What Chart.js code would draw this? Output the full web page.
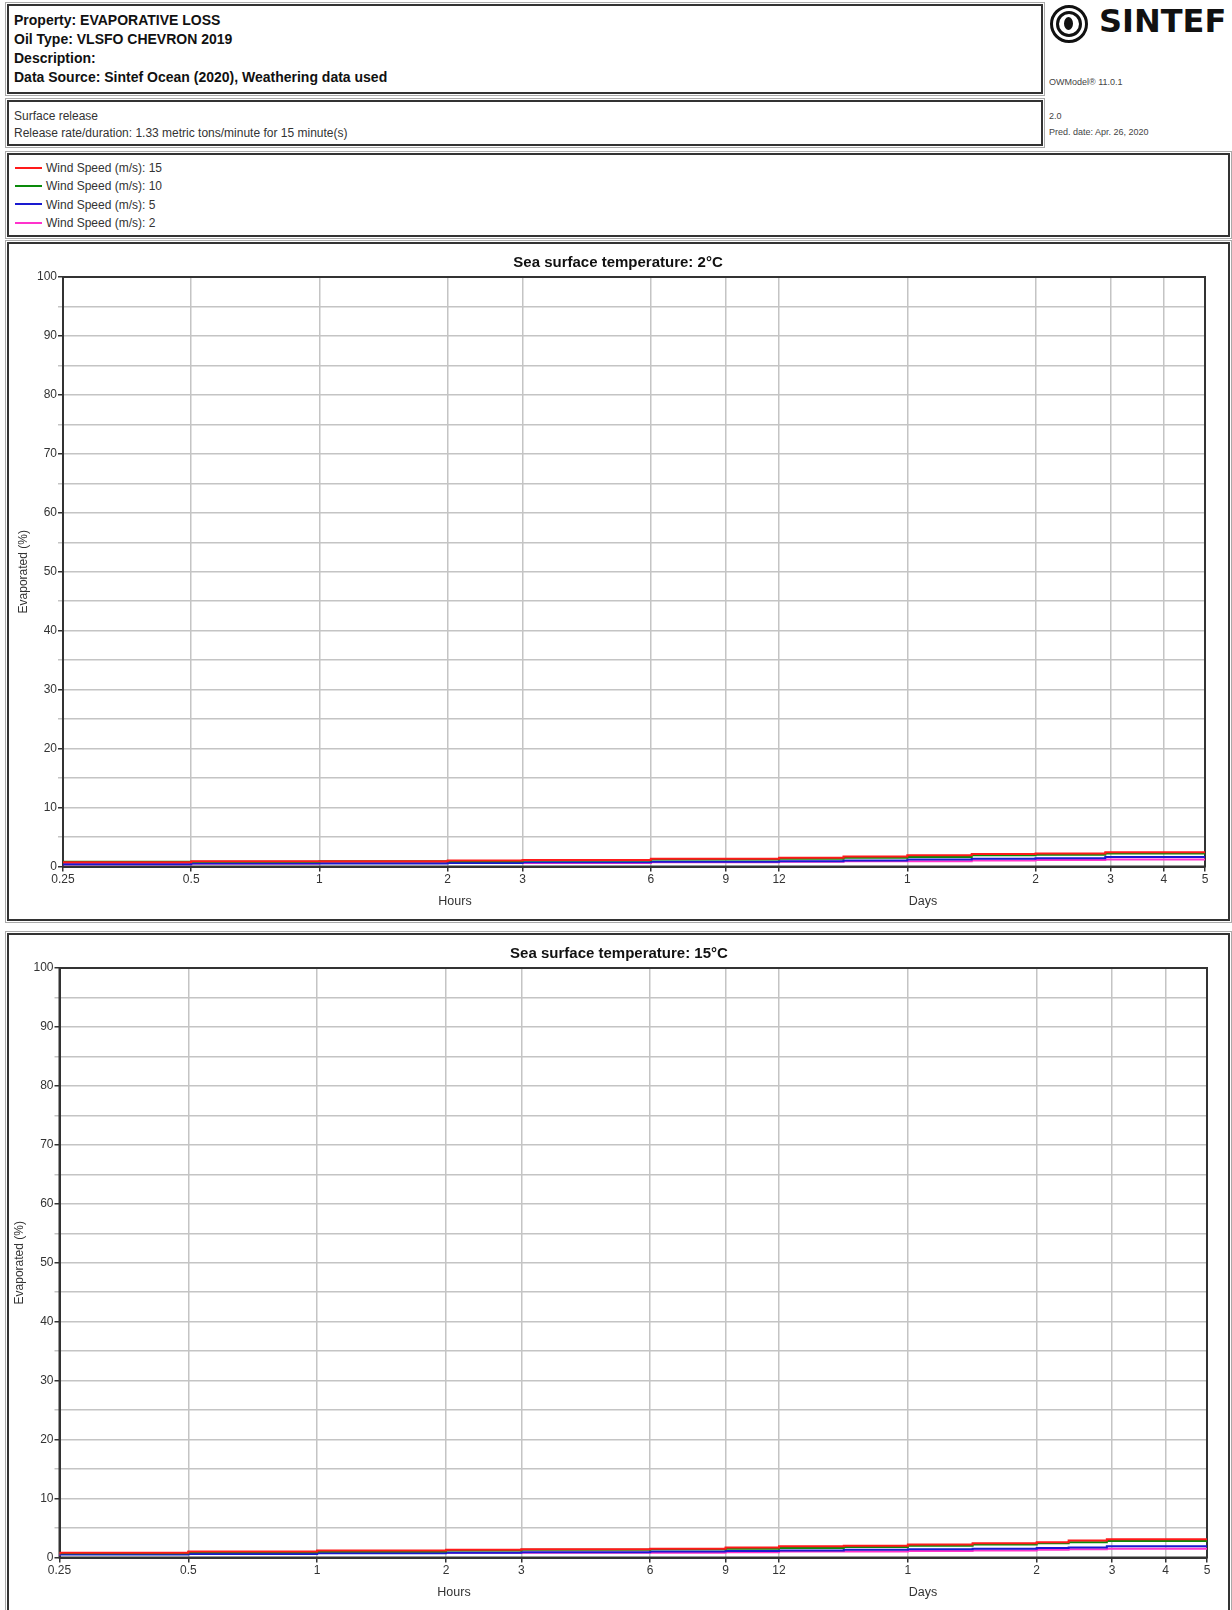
<!DOCTYPE html>
<html>
<head>
<meta charset="utf-8">
<script src="https://cdn.jsdelivr.net/npm/chart.js@4.4.1/dist/chart.umd.min.js"></script>
<style>
  html, body { margin:0; padding:0; background:#fff; }
  body { width:1232px; height:1610px; position:relative; overflow:hidden;
         font-family:'Liberation Sans', Arial, sans-serif; color:#222; }
  .box { position:absolute; box-sizing:border-box; border:2px solid #333;
         outline:1px solid #aaa; outline-offset:1px; background:#fff; }
  .abs { position:absolute; white-space:nowrap; }
  .hdr { font-weight:bold; font-size:14px; line-height:19px; color:#111; }
  .small { font-size:9px; color:#444; }
  .rel { font-size:12px; line-height:16.5px; color:#333; }
  .leg { font-size:12px; color:#333; line-height:18.3px; }
  .leg span.sw { display:inline-block; width:27px; height:2px; vertical-align:middle; margin-right:4px; position:relative; top:-1px; }
  .ctitle { font-weight:bold; font-size:15px; color:#111; transform:translate(-50%,-50%); }
  .axl { font-size:12.5px; color:#333; transform:translate(-50%,-50%); }
  .cv { position:absolute; }
</style>
</head>
<body>
<!-- header -->
<div class="box" style="left:7px;top:4px;width:1036px;height:90px;"></div>
<div class="abs hdr" style="left:14px;top:11px;">
  Property: EVAPORATIVE LOSS<br>Oil Type: VLSFO CHEVRON 2019<br>Description:<br>Data Source: Sintef Ocean (2020), Weathering data used
</div>
<!-- SINTEF logo -->
<div class="abs" style="left:1050px;top:5px;width:38px;height:38px;border-radius:50%;border:3px solid #111;box-sizing:border-box;"></div>
<div class="abs" style="left:1056px;top:11px;width:26px;height:26px;border-radius:50%;border:3px solid #111;box-sizing:border-box;"></div>
<div class="abs" style="left:1064px;top:17px;width:9px;height:13px;border-radius:50%;background:#111;"></div>
<div class="abs" style="left:1099px;top:2px;font-family:'DejaVu Sans',sans-serif;font-weight:bold;font-size:32px;color:#111;letter-spacing:0px;">SINTEF</div>
<div class="abs small" style="left:1049px;top:77px;">OWModel® 11.0.1</div>

<div class="box" style="left:7px;top:100px;width:1036px;height:46px;"></div>
<div class="abs rel" style="left:14px;top:108px;">Surface release<br>Release rate/duration: 1.33 metric tons/minute for 15 minute(s)</div>
<div class="abs small" style="left:1049px;top:111px;">2.0</div>
<div class="abs small" style="left:1049px;top:127px;">Pred. date: Apr. 26, 2020</div>

<div class="box" style="left:7px;top:153px;width:1223px;height:84px;"></div>
<div class="abs leg" id="legend" style="left:15px;top:159px;"></div>

<!-- chart boxes -->
<div class="box" style="left:7px;top:242px;width:1223px;height:679px;"></div>
<div class="box" style="left:7px;top:933px;width:1223px;height:690px;"></div>

<div class="cv" style="left:9px;top:244px;width:1219px;height:675px;"><canvas id="c1"></canvas></div>
<div class="cv" style="left:9px;top:935px;width:1219px;height:675px;"><canvas id="c2"></canvas></div>

<div class="abs ctitle" id="t1" style="left:618px;top:261px;"></div>
<div class="abs axl" style="left:455px;top:901px;">Hours</div>
<div class="abs axl" style="left:923px;top:901px;">Days</div>

<div class="abs ctitle" id="t2" style="left:619px;top:952px;"></div>
<div class="abs axl" style="left:454px;top:1592px;">Hours</div>
<div class="abs axl" style="left:923px;top:1592px;">Days</div>

<script>
// ---------- data ----------
const seriesNames = ['Wind Speed (m/s): 15', 'Wind Speed (m/s): 10', 'Wind Speed (m/s): 5', 'Wind Speed (m/s): 2'];
const seriesColors = ['#ff1a1a', '#0a8a0a', '#1a1ad0', '#ff33cc'];

const tickHours  = [0.25, 0.5, 1, 2, 3, 6, 9, 12, 24, 48, 72, 96, 120];
const tickLabels = ['0.25', '0.5', '1', '2', '3', '6', '9', '12', '1', '2', '3', '4', '5'];

const chart1Title = 'Sea surface temperature: 2°C';
const chart2Title = 'Sea surface temperature: 15°C';

// Sea surface temperature 2°C
const times2C = [0.25, 0.5, 1, 2, 3, 6, 9, 12, 17, 24, 34, 48, 70, 96, 120];
const wind15_2C = [0.6, 0.7, 0.9, 0.9, 1.0, 1.1, 1.3, 1.3, 1.5, 1.7, 1.9, 2.1, 2.2, 2.4, 2.4];
const wind10_2C = [0.5, 0.8, 0.8, 0.9, 0.9, 1.0, 1.2, 1.2, 1.3, 1.5, 1.6, 1.9, 2.0, 2.2, 2.2];
const wind5_2C  = [0.3, 0.4, 0.5, 0.5, 0.6, 0.7, 0.8, 0.8, 0.9, 1.0, 1.2, 1.3, 1.4, 1.6, 1.6];
const wind2_2C  = [0.3, 0.4, 0.5, 0.6, 0.6, 0.6, 0.7, 0.7, 0.8, 0.9, 0.9, 1.0, 1.1, 1.2, 1.2];

// Sea surface temperature 15°C
const times15C = [0.25, 0.5, 1, 2, 3, 6, 9, 12, 17, 24, 34, 48, 57, 70, 96, 120];
const wind15_15C = [0.5, 0.8, 1.0, 1.2, 1.3, 1.4, 1.5, 1.7, 1.9, 2.0, 2.2, 2.4, 2.6, 2.9, 3.1, 3.1];
const wind10_15C = [0.6, 0.7, 0.9, 1.0, 1.2, 1.3, 1.4, 1.5, 1.6, 1.8, 2.0, 2.2, 2.4, 2.6, 2.8, 2.8];
const wind5_15C  = [0.3, 0.5, 0.6, 0.7, 0.8, 0.9, 1.0, 1.1, 1.2, 1.3, 1.4, 1.5, 1.6, 1.7, 1.9, 1.9];
const wind2_15C  = [0.3, 0.7, 0.7, 0.8, 0.8, 0.8, 0.8, 0.9, 1.0, 1.0, 1.1, 1.2, 1.3, 1.4, 1.5, 1.5];

// ---------- legend & titles ----------
document.getElementById('legend').innerHTML = seriesNames.map((n, i) =>
  '<div><span class="sw" style="background:' + seriesColors[i] + '"></span>' + n + '</div>').join('');
document.getElementById('t1').textContent = chart1Title;
document.getElementById('t2').textContent = chart2Title;

Chart.defaults.font.family = "'Liberation Sans', Arial, sans-serif";
Chart.defaults.color = '#333';

const borderPlugin = {
  id: 'areaBorder',
  beforeDatasetsDraw(chart) {
    const a = chart.chartArea, ctx = chart.ctx;
    ctx.save();
    ctx.strokeStyle = '#333';
    ctx.lineWidth = 2;
    ctx.strokeRect(a.left, a.top, a.right - a.left, a.bottom - a.top);
    ctx.restore();
  }
};

function makeChart(id, times, series, yWidth, rightPad, yTitlePad) {
  const datasets = series.map((vals, i) => ({
    label: seriesNames[i],
    data: vals.map((v, k) => ({ x: times[k], y: v })),
    borderColor: seriesColors[i],
    backgroundColor: seriesColors[i],
    borderWidth: 2,
    pointRadius: 0,
    stepped: 'after',
    fill: false
  }));
  return new Chart(document.getElementById(id), {
    type: 'line',
    data: { datasets },
    plugins: [borderPlugin],
    options: {
      responsive: true,
      maintainAspectRatio: false,
      animation: false,
      layout: { padding: { top: 33, right: rightPad, left: 0, bottom: 0 } },
      plugins: { legend: { display: false }, title: { display: false }, tooltip: { enabled: false } },
      scales: {
        x: {
          type: 'logarithmic',
          min: 0.25, max: 120,
          afterBuildTicks: s => { s.ticks = tickHours.map(v => ({ value: v })); },
          afterFit: s => { s.height = 52.5; },
          ticks: { autoSkip: false, maxRotation: 0, minRotation: 0, padding: 1,
                   font: { size: 12 }, color: '#333',
                   callback: (v, i) => tickLabels[i] },
          grid: { color: '#c4c4c4', lineWidth: 1.5, tickLength: 5, tickColor: '#333' },
          border: { display: true, color: '#333', width: 2 }
        },
        y: {
          min: 0, max: 100,
          afterBuildTicks: s => { const t = []; for (let v = 0; v <= 100; v += 5) t.push({ value: v }); s.ticks = t; },
          afterFit: s => { s.width = yWidth; },
          ticks: { padding: 1, font: { size: 12 }, color: '#333',
                   callback: v => (v % 10 === 0 ? String(v) : '') },
          grid: { color: '#c4c4c4', lineWidth: 1.5, tickLength: 5,
                  tickColor: c => (c.tick && c.tick.value % 10 === 0 ? '#333' : '#c4c4c4') },
          border: { display: true, color: '#333', width: 2 },
          title: { display: true, text: 'Evaporated (%)', font: { size: 12 }, color: '#333',
                   padding: { top: yTitlePad, bottom: 0 } }
        }
      }
    }
  });
}

makeChart('c1', times2C, [wind15_2C, wind10_2C, wind5_2C, wind2_2C], 54, 23, 7);
makeChart('c2', times15C, [wind15_15C, wind10_15C, wind5_15C, wind2_15C], 50.5, 21, 3);
</script>
</body>
</html>
